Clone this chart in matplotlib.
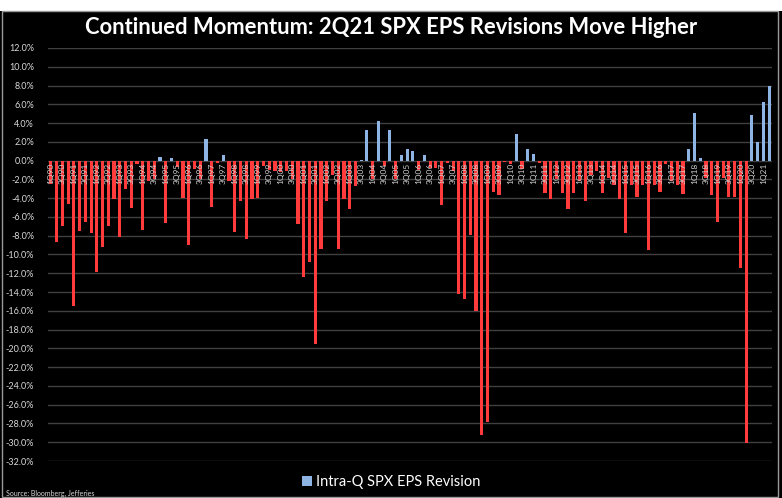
import matplotlib
matplotlib.use("Agg")
import matplotlib.pyplot as plt
from matplotlib.patches import Patch, Rectangle
import numpy as np

plt.rcParams['font.family'] = ['Lato', 'DejaVu Sans']

# quarterly intra-quarter SPX EPS revision (%), 1Q90 .. 2Q21
years = list(range(1990, 2022))
quarters = [f"{q}Q{str(y)[2:]}" for y in years for q in range(1, 5)][:126]

revision = [
    -2.5, -8.7, -7.0, -4.6, -15.5, -7.5, -6.5, -7.7, -11.9, -9.2,
    -7.0, -4.1, -8.1, -3.0, -5.0, -0.4, -7.4, -2.2, -2.0, 0.4,
    -6.6, 0.25, -0.7, -4.0, -9.0, -0.9, -2.0, 2.3, -4.9, -0.3,
    0.55, -2.2, -7.6, -4.3, -8.3, -4.1, -4.0, -0.6, -1.0, -1.1,
    -1.2, -1.1, -2.0, -6.8, -12.4, -10.8, -19.5, -9.4, -4.3, -1.5,
    -9.4, -4.1, -5.2, -2.7, 0.1, 3.3, -2.0, 4.2, -0.6, 3.3,
    -2.0, 0.6, 1.25, 1.0, -1.0, 0.65, -0.8, -0.8, -4.7, -0.3,
    -1.1, -14.2, -14.7, -7.9, -16.0, -29.2, -27.8, -3.3, -3.7, -0.1,
    -0.4, 2.8, -0.9, 1.25, 0.75, -0.25, -3.5, -4.1, -2.0, -3.4,
    -5.2, -3.5, -2.2, -4.3, -1.5, -1.1, -3.5, -1.9, -2.6, -4.1,
    -7.7, -2.6, -3.9, -2.6, -9.5, -2.6, -3.3, -0.35, -2.2, -2.6,
    -3.6, 1.25, 5.1, 0.25, -1.9, -3.7, -6.5, -1.9, -3.9, -3.9,
    -11.4, -30.1, 4.9, 2.0, 6.3, 8.0,
]

yticks = list(range(12, -33, -2))

BLUE = '#8db4e2'
RED = '#ff3b3b'

fig = plt.figure(figsize=(7.82, 4.98), dpi=100, facecolor='black')

# white strip at the top and thin frame round the black panel
fig.patches.append(Rectangle((0, 1 - 11 / 498), 1, 11 / 498, transform=fig.transFigure,
                             facecolor='white', edgecolor='none', zorder=0))
fig.patches.append(Rectangle((2 / 782, 0.002), 776 / 782, 1 - 12 / 498, transform=fig.transFigure,
                             facecolor='none', edgecolor='#9a9a9a', lw=1, zorder=1))

ax = fig.add_axes([48 / 782, 1 - 461 / 498, 724 / 782, 413 / 498])
ax.set_facecolor('black')

x = np.arange(len(revision))
colors = [BLUE if v >= 0 else RED for v in revision]
ax.bar(x, revision, width=0.55, color=colors, zorder=3)

ax.set_xlim(-0.5, len(revision) - 0.5)
ax.set_ylim(-32, 12)
ax.set_yticks(yticks)
ax.set_yticklabels([f"{t:.1f}%" for t in yticks], color='#d9d9d9', fontsize=6.5)
ax.tick_params(axis='y', length=0, pad=10)
ax.set_xticks([])
ax.grid(axis='y', color='#404040', lw=1, zorder=0)
for s in ax.spines.values():
    s.set_visible(False)

# category labels sit at the zero line, every other quarter
for i in range(0, len(quarters), 2):
    ax.text(i, -0.25, quarters[i], rotation=90, ha='center', va='top',
            color='#cfcfcf', fontsize=6, zorder=4)

fig.text(0.5, 1 - 27 / 498, "Continued Momentum: 2Q21 SPX EPS Revisions Move Higher",
         ha='center', va='center', color='white', fontsize=15.8, fontweight='bold')

fig.legend(handles=[Patch(facecolor=BLUE, label='Intra-Q SPX EPS Revision')],
           loc='center', bbox_to_anchor=(0.5, 1 - 482 / 498), frameon=False,
           labelcolor='white', fontsize=10.5, handlelength=0.7, handleheight=0.7,
           handletextpad=0.3)

fig.text(6 / 782, 1 - 493 / 498, "Source: Bloomberg, Jefferies", ha='left', va='center',
         color='#d9d9d9', fontsize=5)

fig.savefig("out.png", dpi=100, facecolor='black')
